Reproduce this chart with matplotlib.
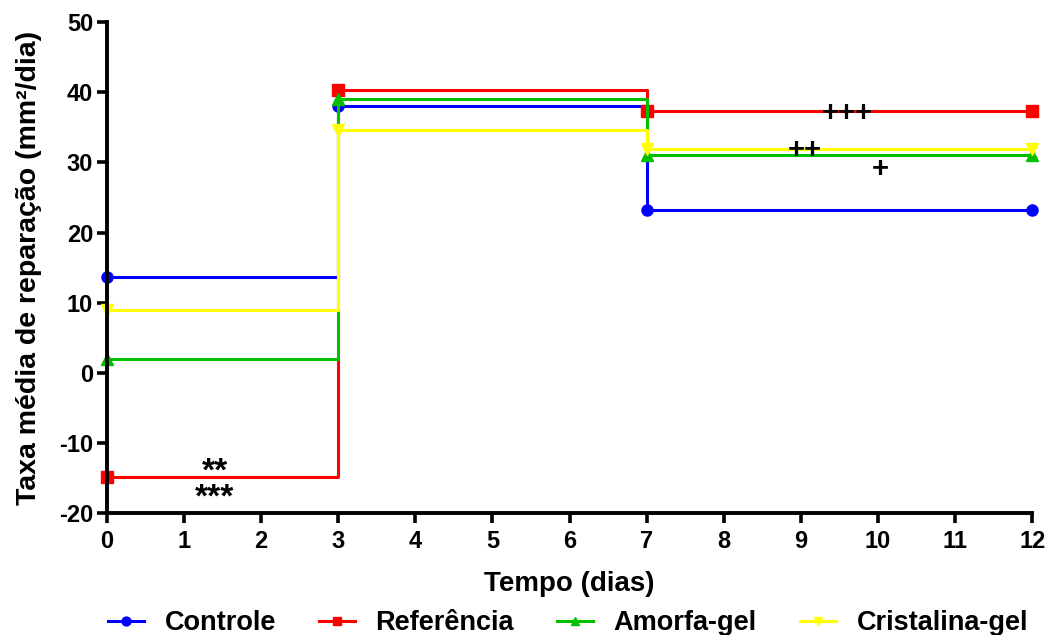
import matplotlib
matplotlib.use('Agg')
from matplotlib import pyplot as plt

plt.rcParams['font.family'] = ['Liberation Sans', 'DejaVu Sans']
plt.rcParams['font.weight'] = 'bold'
plt.rcParams['axes.unicode_minus'] = False

# dias de avaliação e taxa média de reparação por grupo
dias = [0, 3, 7, 12]
controle = [13.6, 38.0, 23.2, 23.2]
referencia = [-14.9, 40.4, 37.3, 37.3]
amorfa = [2.0, 39.0, 31.0, 31.0]
cristalina = [8.9, 34.6, 31.9, 31.9]

grupos = ['Controle', 'Referência', 'Amorfa-gel', 'Cristalina-gel']
cores = ['#0000FF', '#FF0000', '#00C000', '#FFFF00']
marcadores = ['o', 's', '^', 'v']

# marcações de significância (x, linha de base, texto, tamanho)
sig_x = [1.4, 9.6, 9.05, 10.03]
sig_y = [-19.0, 35.9, 30.7, 27.9]
sig_txt = ['**\n***', '+++', '++', '+']
sig_tam = [24, 21, 21, 21]

fig = plt.figure(figsize=(10.48, 6.35), dpi=100)
ax = fig.add_axes([0.102, 0.192, 0.883, 0.773])

for serie, nome, cor, m in zip([controle, referencia, amorfa, cristalina], grupos, cores, marcadores):
    ax.plot(dias, serie, drawstyle='steps-post', color=cor, marker=m,
            markersize=8, linewidth=2.2, label=nome, clip_on=False)

for x, y, t, s in zip(sig_x, sig_y, sig_txt, sig_tam):
    ax.text(x, y, t, ha='center', va='baseline', fontsize=s, fontweight='bold',
            multialignment='center', linespacing=0.78)

ax.set_xlim(0, 12)
ax.set_ylim(-20, 50)
ax.set_xticks(range(0, 13))
ax.set_yticks(range(-20, 51, 10))
ax.spines['top'].set_visible(False)
ax.spines['right'].set_visible(False)
ax.spines['left'].set_linewidth(2.8)
ax.spines['bottom'].set_linewidth(2.8)
ax.tick_params(direction='out', length=7, width=2.6, labelsize=17, pad=3)
ax.tick_params(axis='x', pad=5)
for lab in ax.get_xticklabels() + ax.get_yticklabels():
    lab.set_fontweight('bold')

ax.set_xlabel('Tempo (dias)', fontsize=20, fontweight='bold', labelpad=13)
ax.set_ylabel('Taxa média de reparação (mm²/dia)', fontsize=20.5, fontweight='bold', labelpad=12)

leg = fig.legend(loc='lower center', bbox_to_anchor=(0.542, -0.04), ncol=4, frameon=False,
                 fontsize=19.5, handlelength=1.33, handletextpad=0.75, columnspacing=1.6,
                 markerscale=0.8)
for t in leg.get_texts():
    t.set_fontweight('bold')

fig.savefig('out.png', dpi=100)
